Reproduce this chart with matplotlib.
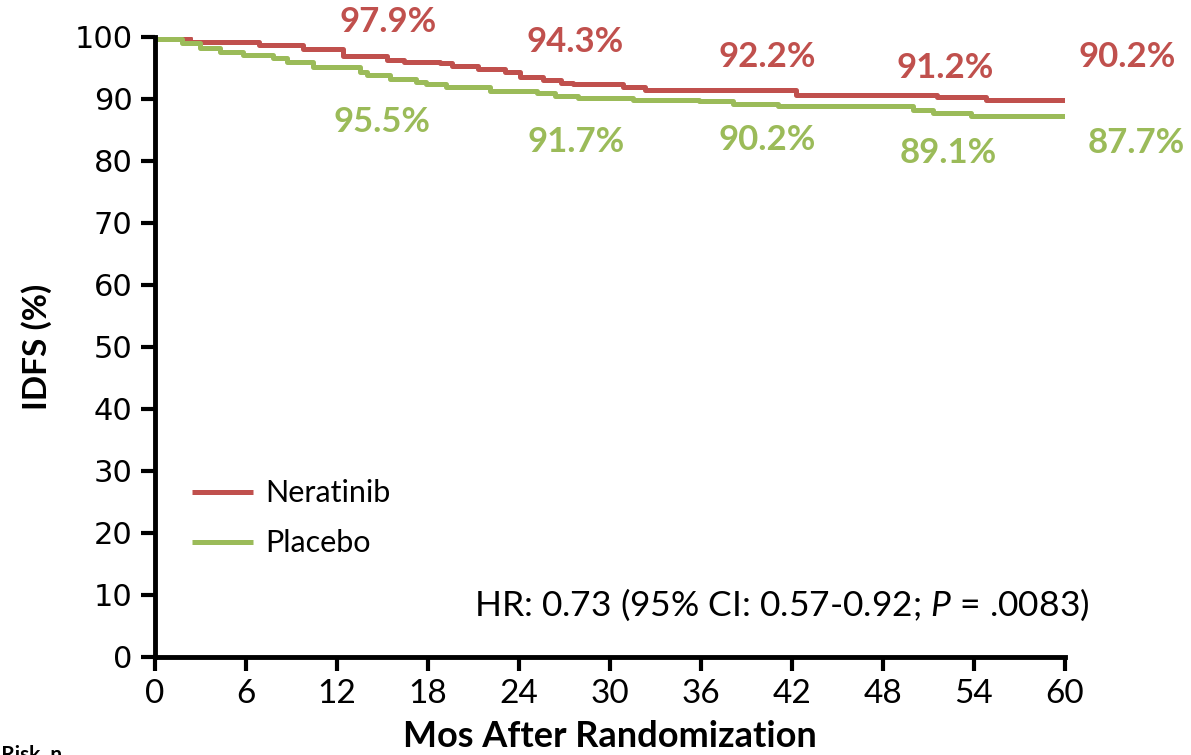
import matplotlib
matplotlib.use("Agg")
from matplotlib import pyplot as plt

# Kaplan-Meier steps (months, IDFS %)
meses_ner = [0, 2.3, 6.9, 9.8, 12.4, 15.3, 16.4, 18.1, 18.8, 19.6, 21.3, 23.1, 24.1,
             25.6, 26.8, 27.6, 30.9, 32.3, 42.3, 51.6, 54.8, 60.1]
idfs_ner = [99.8, 99.2, 98.7, 98.0, 97.0, 96.3, 96.0, 95.9, 95.8, 95.4, 94.9, 94.4, 93.6,
            93.1, 92.5, 92.4, 92.0, 91.5, 90.6, 90.4, 89.8, 89.8]

meses_pla = [0, 1.76, 2.97, 4.3, 5.8, 7.8, 8.7, 10.4, 13.5, 14.0, 15.5, 17.2, 17.9, 19.2,
             22.1, 25.2, 26.4, 27.9, 31.5, 35.9, 38.1, 41.1, 50.0, 51.3, 53.8, 60.1]
idfs_pla = [99.6, 99.0, 98.2, 97.6, 97.1, 96.6, 96.0, 95.1, 94.4, 93.9, 93.3, 92.8, 92.4, 91.9,
            91.3, 90.9, 90.5, 90.1, 89.8, 89.6, 89.2, 88.9, 88.2, 87.8, 87.3, 87.3]

# landmark estimates printed on the chart
etiquetas_ner = ["97.9%", "94.3%", "92.2%", "91.2%", "90.2%"]
etiquetas_pla = ["95.5%", "91.7%", "90.2%", "89.1%", "87.7%"]
pos_ner = [(15.4, 102.4), (27.7, 99.2), (40.4, 96.8), (52.1, 95.0), (64.1, 96.8)]
pos_pla = [(15.0, 86.3), (27.8, 83.1), (40.4, 83.4), (52.3, 81.3), (64.7, 82.9)]

xticks = list(range(0, 61, 6))
yticks = list(range(0, 101, 10))

rojo = "#C0504D"
verde = "#9BBB59"

plt.rcParams["mathtext.fontset"] = "custom"
plt.rcParams["mathtext.rm"] = "Lato"
plt.rcParams["mathtext.it"] = "Lato:italic"

fig = plt.figure(figsize=(11.91, 7.55), dpi=100)
ax = fig.add_axes([0.130, 0.130, 0.764, 0.821])

ax.plot(meses_ner, idfs_ner, drawstyle="steps-post", color=rojo, lw=3.6, label="Neratinib",
        solid_capstyle="butt")
ax.plot(meses_pla, idfs_pla, drawstyle="steps-post", color=verde, lw=3.6, label="Placebo",
        solid_capstyle="butt")

for txt, (x, y) in zip(etiquetas_ner, pos_ner):
    ax.text(x, y, txt, color=rojo, fontsize=25, fontweight="bold", family="Lato",
            ha="center", va="center", clip_on=False)
for txt, (x, y) in zip(etiquetas_pla, pos_pla):
    ax.text(x, y, txt, color=verde, fontsize=25, fontweight="bold", family="Lato",
            ha="center", va="center", clip_on=False)

ax.set_xlim(0, 60)
ax.set_ylim(0, 100)
ax.set_xticks(xticks)
ax.set_yticks(yticks)
ax.set_xticklabels([str(t) for t in xticks], family="Lato", fontsize=24)
ax.set_yticklabels([str(t) for t in yticks], family="DejaVu Sans", fontsize=22)
ax.tick_params(axis="both", direction="out", length=10, width=3, color="black", pad=6)

for s in ["top", "right"]:
    ax.spines[s].set_visible(False)
for s in ["left", "bottom"]:
    ax.spines[s].set_linewidth(3.5)

ax.set_xlabel("Mos After Randomization", family="Lato", fontweight="bold", fontsize=26,
              labelpad=8)
ax.set_ylabel("IDFS (%)", family="Lato", fontweight="bold", fontsize=24, labelpad=16)

leg = ax.legend(loc="lower left", bbox_to_anchor=(0.027, 0.141), frameon=False,
                prop={"family": "Lato", "size": 22}, handlelength=2.0, handletextpad=0.4,
                labelspacing=0.72, borderaxespad=0)

ax.text(1.027, 0.084, "HR: 0.73 (95% CI: 0.57-0.92; $P$ = .0083)", transform=ax.transAxes,
        family="Lato", fontsize=25.5, ha="right", va="center", clip_on=False)

fig.text(0.052, 0.0, "At Risk, n", family="Lato", fontweight="bold", fontsize=15,
         ha="right", va="center")

fig.savefig("out.png", dpi=100)
